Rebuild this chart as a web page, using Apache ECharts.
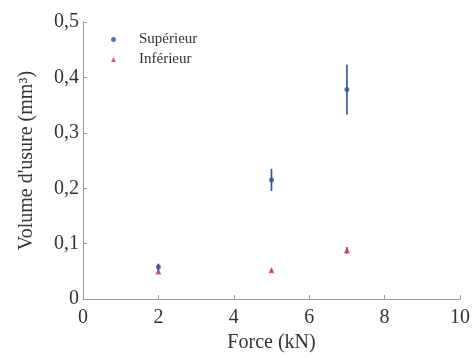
<!DOCTYPE html>
<html><head><meta charset="utf-8">
<script src="https://cdn.jsdelivr.net/npm/echarts@6/dist/echarts.min.js"></script>
<style>html,body{margin:0;padding:0;background:#fff}#c{width:473px;height:358px}</style>
</head><body><div id="c"></div>
<script>
const forces = [2, 5, 7];
const supValues = [0.058, 0.215, 0.378];
const supErrors = [0.006, 0.02, 0.045];
const infValues = [0.05, 0.052, 0.088];
const infErrors = [0.004, 0.003, 0.006];
const seriesNames = ['Supérieur', 'Inférieur'];
const colors = ['#2f4f9a', '#c43a55'];
const font = 'Liberation Serif';

function pts(v){ return forces.map((f,i)=>[f, v[i]]); }
function errData(v,e){ return forces.map((f,i)=>[f, v[i]-e[i], v[i]+e[i]]); }
function errSeries(v,e,color){
  return {
    type:'custom', silent:true, z:3,
    data: errData(v,e),
    renderItem(params, api){
      const lo = api.coord([api.value(0), api.value(1)]);
      const hi = api.coord([api.value(0), api.value(2)]);
      return {type:'line', shape:{x1:lo[0],y1:lo[1],x2:hi[0],y2:hi[1]}, style:{stroke:color, lineWidth:1.6}};
    }
  };
}

const chart = echarts.init(document.getElementById('c'));
chart.setOption({
  animation:false,
  backgroundColor:'#fff',
  textStyle:{fontFamily:font},
  legend:{
    left:106, top:27, orient:'vertical', itemGap:5, itemWidth:5, itemHeight:5,
    textStyle:{fontFamily:font, fontSize:15, color:'#333', padding:[0,0,0,18]},
    data:[{name:seriesNames[0], icon:'circle'},{name:seriesNames[1], icon:'triangle'}]
  },
  grid:{left:83, right:12, top:22, bottom:57},
  xAxis:{
    type:'value', min:0, max:10, interval:2,
    name:'Force (kN)', nameLocation:'middle', nameGap:31,
    nameTextStyle:{fontFamily:font, fontSize:20, color:'#333'},
    axisLine:{lineStyle:{color:'#999'}},
    axisTick:{inside:true, length:4, lineStyle:{color:'#999'}},
    axisLabel:{fontFamily:font, fontSize:20, color:'#333', margin:9},
    splitLine:{show:false}
  },
  yAxis:{
    type:'value', min:0, max:0.5, interval:0.1,
    name:"Volume d'usure (mm³)", nameLocation:'middle', nameGap:46,
    nameTextStyle:{fontFamily:font, fontSize:20, color:'#333'},
    axisLine:{show:true, lineStyle:{color:'#999'}},
    axisTick:{show:true, inside:true, length:4, lineStyle:{color:'#999'}},
    axisLabel:{fontFamily:font, fontSize:20, color:'#333', margin:4,
      formatter:v=> v===0 ? '0' : v.toFixed(1).replace('.',',')},
    splitLine:{show:false}
  },
  series:[
    errSeries(supValues, supErrors, colors[0]),
    errSeries(infValues, infErrors, colors[1]),
    {name:seriesNames[0], type:'scatter', symbol:'circle', symbolSize:5, z:4,
     itemStyle:{color:colors[0]}, data:pts(supValues)},
    {name:seriesNames[1], type:'scatter', symbol:'triangle', symbolSize:6, z:4,
     itemStyle:{color:colors[1]}, data:pts(infValues)}
  ]
});
</script></body></html>
